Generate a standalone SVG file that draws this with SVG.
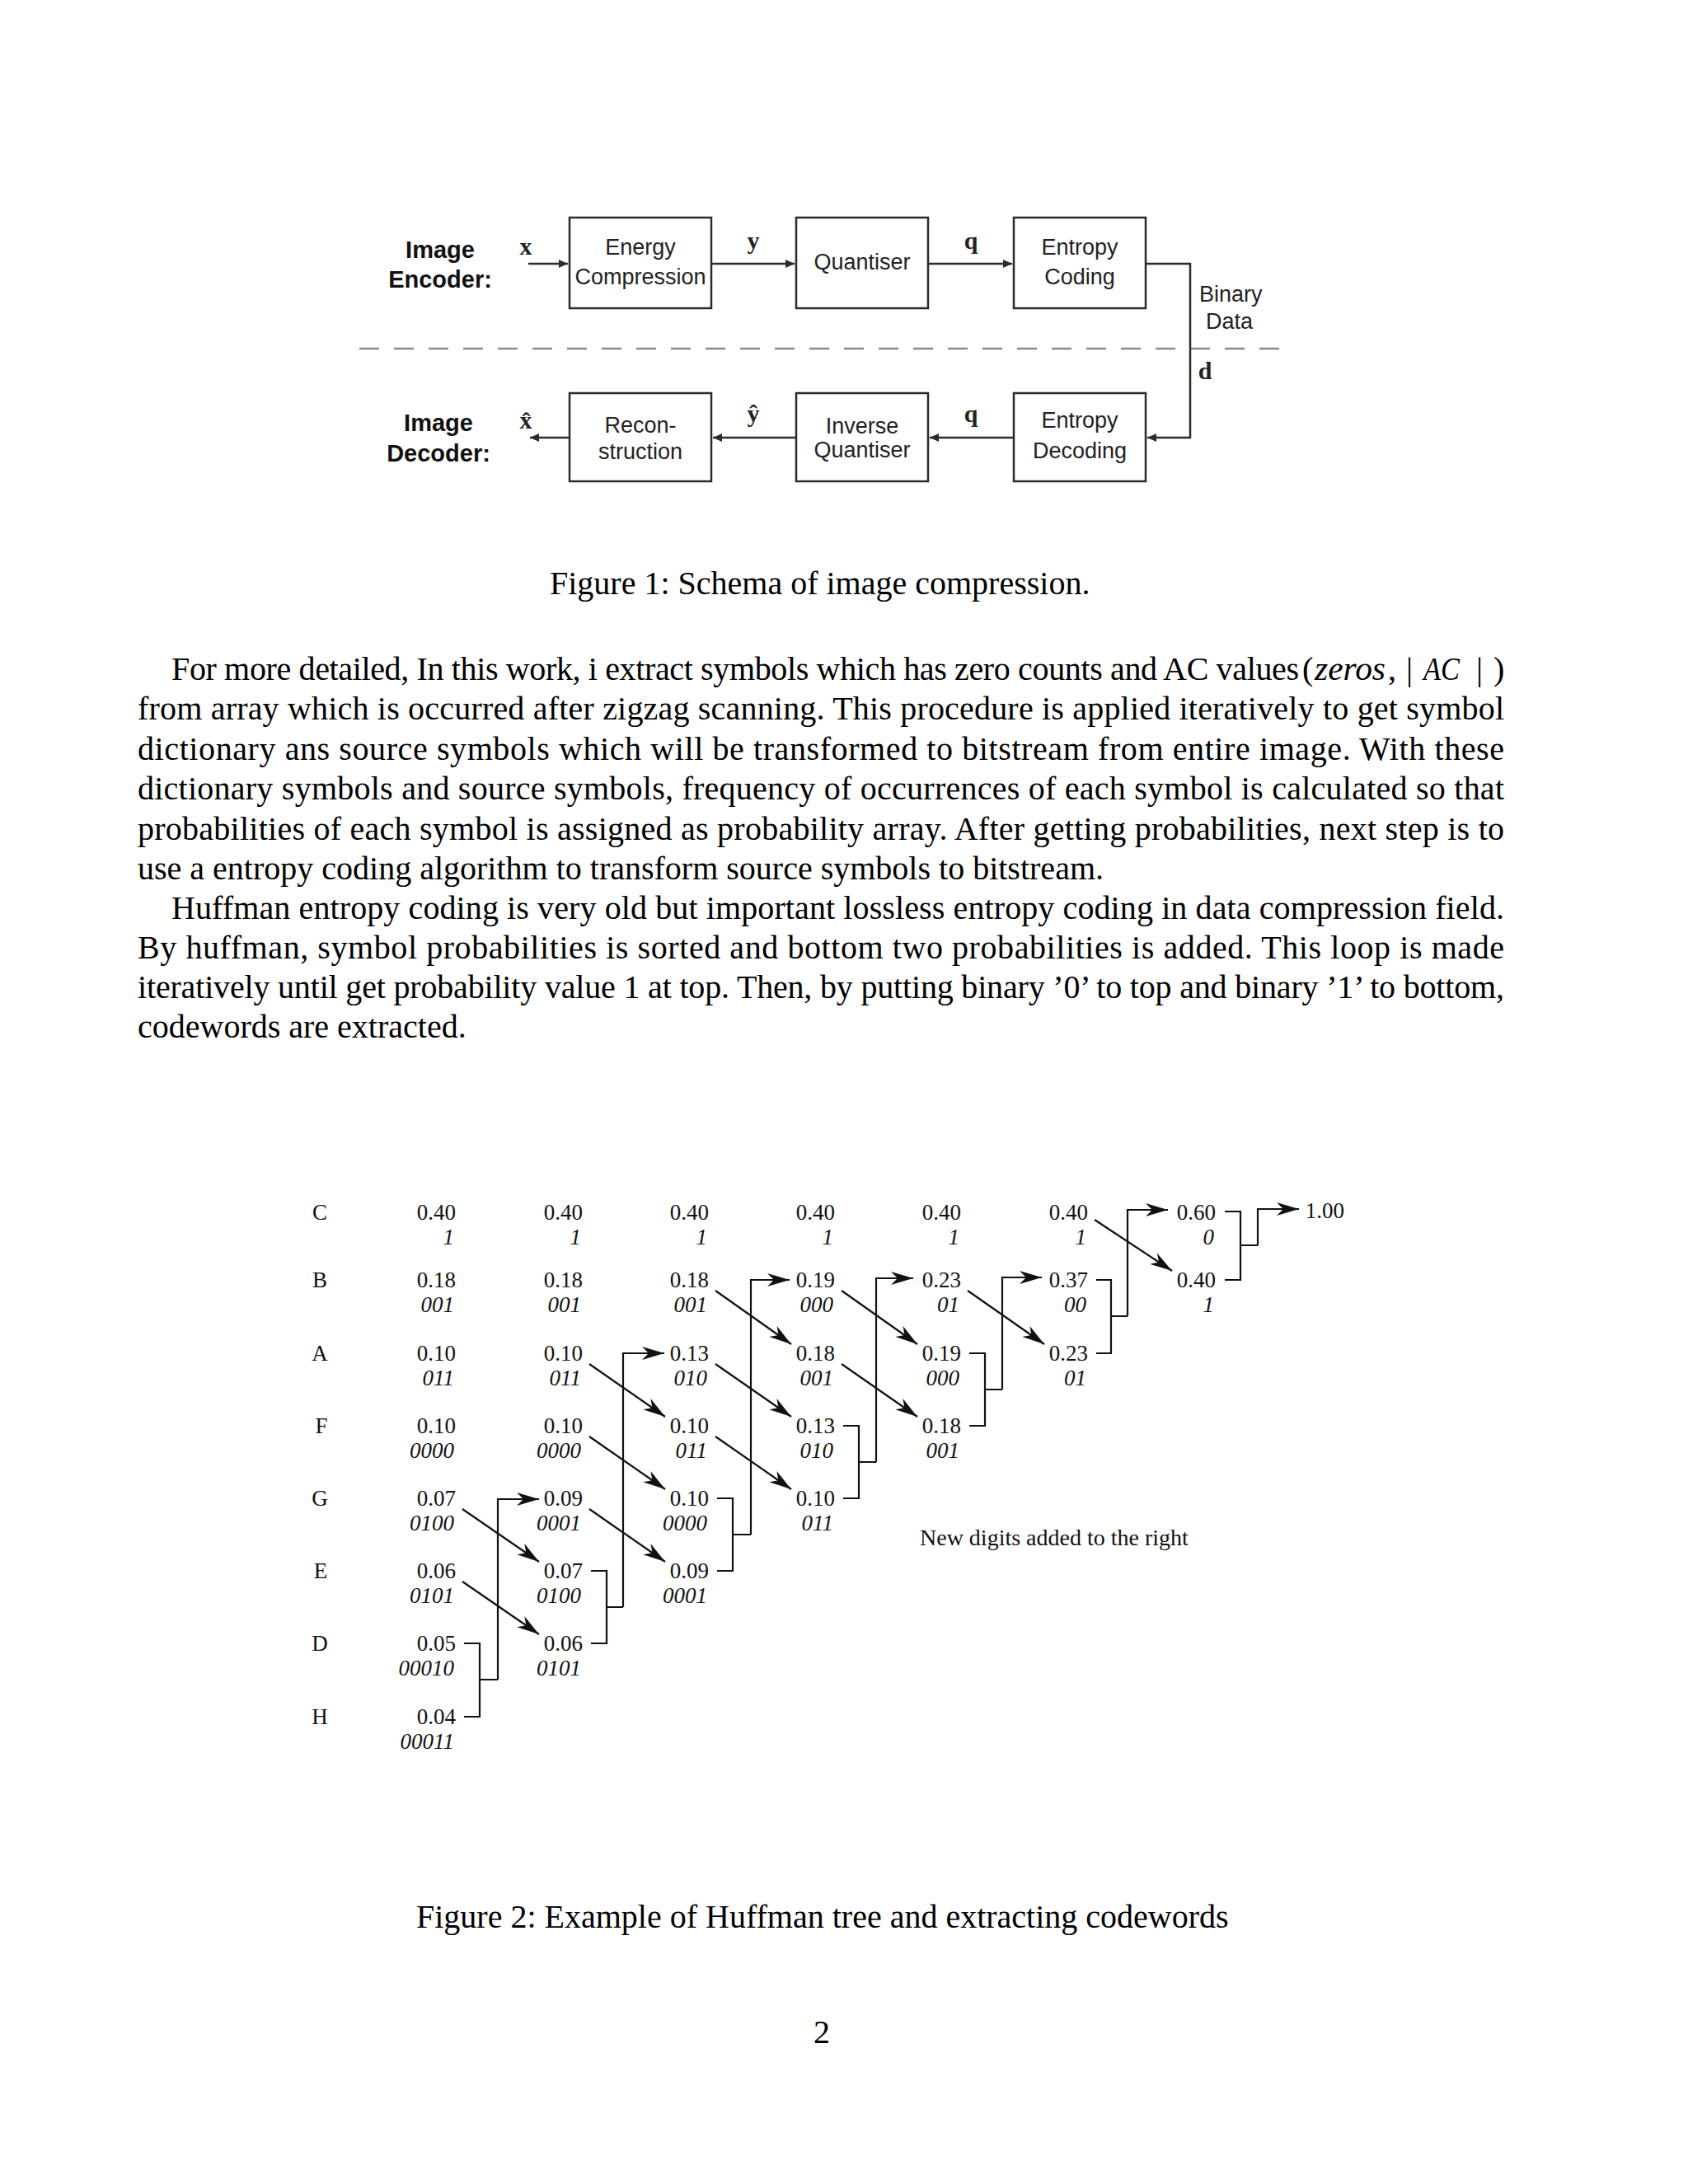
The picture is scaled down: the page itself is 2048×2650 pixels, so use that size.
<svg xmlns="http://www.w3.org/2000/svg" width="2048" height="2650" viewBox="0 0 2048 2650">
<style>
.bg{fill:#fff}
.box{fill:#fff;stroke:#2b2b2b;stroke-width:2.5}
.f1{font-family:"Liberation Sans",Arial,sans-serif;font-size:27px;fill:#222;text-anchor:middle}
.f1b{font-family:"Liberation Sans",Arial,sans-serif;font-size:29px;font-weight:bold;fill:#111;text-anchor:middle}
.f1l{font-family:"Liberation Sans",Arial,sans-serif;font-size:27px;fill:#222}
.var{font-family:"Liberation Serif","Times New Roman",serif;font-size:30px;font-weight:bold;fill:#222;text-anchor:middle}
.c1{fill:none;stroke:#2b2b2b;stroke-width:2.5}
.dash{fill:none;stroke:#8a8a8a;stroke-width:2.5;stroke-dasharray:24 18}
.body{font-family:"Liberation Serif","Times New Roman",serif;font-size:40px;fill:#000}
.it{font-style:italic}
.num{font-family:"Liberation Serif","Times New Roman",serif;font-size:27px;fill:#111;text-anchor:end}
.code{font-family:"Liberation Serif","Times New Roman",serif;font-size:27px;font-style:italic;fill:#111;text-anchor:end}
.sym{font-family:"Liberation Serif","Times New Roman",serif;font-size:27px;fill:#111;text-anchor:middle}
.c2{fill:none;stroke:#111;stroke-width:2.2}
.ar2{fill:none;stroke:#111;stroke-width:2.2;marker-end:url(#ah2)}
.ar1{fill:none;stroke:#2b2b2b;stroke-width:2.5;marker-end:url(#ah1)}
</style>
<defs>
<marker id="ah1" markerUnits="userSpaceOnUse" viewBox="-12 -6 13 12" refX="0" refY="0" markerWidth="13" markerHeight="12" orient="auto">
<path d="M0,0 L-11,-5 L-11,5 Z" fill="#2b2b2b"/>
</marker>
<marker id="ah2" markerUnits="userSpaceOnUse" viewBox="-30 -10 32 20" refX="0" refY="0" markerWidth="32" markerHeight="20" orient="auto">
<path d="M0,0 L-27,-8 L-19,0 L-27,8 Z" fill="#111"/>
</marker>
</defs>
<rect class="bg" x="0" y="0" width="2048" height="2650"/>

<!-- Figure 1 -->
<g id="fig1-labels">
<text class="f1b" x="534" y="313">Image</text>
<text class="f1b" x="534" y="349">Encoder:</text>
<text class="f1b" x="532" y="523">Image</text>
<text class="f1b" x="532" y="560">Decoder:</text>
<text class="var" x="638" y="309">x</text>
<text class="var" x="914" y="302">y</text>
<text class="var" x="1178" y="302">q</text>
<text class="var" x="638" y="520">x̂</text>
<text class="var" x="914" y="512">ŷ</text>
<text class="var" x="1178" y="512">q</text>
<text class="var" x="1462" y="460">d</text>
<text class="f1l" x="1455" y="366">Binary</text>
<text class="f1l" x="1463" y="399">Data</text>
</g>
<g id="energy-compression">
<rect class="box" x="691" y="264" width="172" height="110"/>
<text class="f1" x="777" y="309">Energy</text>
<text class="f1" x="777" y="345">Compression</text>
</g>
<g id="quantiser">
<rect class="box" x="966" y="264" width="160" height="110"/>
<text class="f1" x="1046" y="327">Quantiser</text>
</g>
<g id="entropy-coding">
<rect class="box" x="1230" y="264" width="160" height="110"/>
<text class="f1" x="1310" y="309">Entropy</text>
<text class="f1" x="1310" y="345">Coding</text>
</g>
<g id="reconstruction">
<rect class="box" x="691" y="477" width="172" height="107"/>
<text class="f1" x="777" y="525">Recon-</text>
<text class="f1" x="777" y="557">struction</text>
</g>
<g id="inverse-quantiser">
<rect class="box" x="966" y="477" width="160" height="107"/>
<text class="f1" x="1046" y="526">Inverse</text>
<text class="f1" x="1046" y="555">Quantiser</text>
</g>
<g id="entropy-decoding">
<rect class="box" x="1230" y="477" width="160" height="107"/>
<text class="f1" x="1310" y="519">Entropy</text>
<text class="f1" x="1310" y="556">Decoding</text>
</g>
<g id="fig1-connectors">
<line class="dash" x1="436" y1="423" x2="1560" y2="423"/>
<path class="ar1" d="M641,320 H689"/>
<path class="ar1" d="M863,320 H964"/>
<path class="ar1" d="M1126,320 H1228"/>
<path class="ar1" d="M1390,320 H1444 V531 H1392"/>
<path class="ar1" d="M1230,531 H1128"/>
<path class="ar1" d="M966,531 H865"/>
<path class="ar1" d="M691,531 H643"/>
</g>

<g id="caption1">
<text class="body" x="667" y="721">Figure 1: Schema of image compression.</text>
</g>

<g id="paragraph">
<text class="body" x="208" y="825" textLength="1368">For more detailed, In this work, i extract symbols which has zero counts and AC values</text>
<text class="body" x="1580" y="825">(</text>
<text class="body it" x="1595" y="825" textLength="86" lengthAdjust="spacingAndGlyphs">zeros</text>
<text class="body" x="1684" y="825">,</text>
<text class="body" x="1706" y="825">|</text>
<text class="body it" x="1727" y="825" textLength="44" lengthAdjust="spacingAndGlyphs">AC</text>
<text class="body" x="1791" y="825">|</text>
<text class="body" x="1812" y="825">)</text>
<text class="body" x="167" y="873" textLength="1658">from array which is occurred after zigzag scanning. This procedure is applied iteratively to get symbol</text>
<text class="body" x="167" y="922" textLength="1658">dictionary ans source symbols which will be transformed to bitstream from entire image. With these</text>
<text class="body" x="167" y="970" textLength="1658">dictionary symbols and source symbols, frequency of occurrences of each symbol is calculated so that</text>
<text class="body" x="167" y="1019" textLength="1658">probabilities of each symbol is assigned as probability array. After getting probabilities, next step is to</text>
<text class="body" x="167" y="1067">use a entropy coding algorithm to transform source symbols to bitstream.</text>
<text class="body" x="208" y="1115" textLength="1617">Huffman entropy coding is very old but important lossless entropy coding in data compression field.</text>
<text class="body" x="167" y="1163" textLength="1658">By huffman, symbol probabilities is sorted and bottom two probabilities is added. This loop is made</text>
<text class="body" x="167" y="1211" textLength="1658">iteratively until get probability value 1 at top. Then, by putting binary ’0’ to top and binary ’1’ to bottom,</text>
<text class="body" x="167" y="1259">codewords are extracted.</text>
</g>

<!-- Figure 2 -->
<g id="symbols">
<text class="sym" x="388" y="1480">C</text>
<text class="sym" x="388" y="1562">B</text>
<text class="sym" x="388" y="1651">A</text>
<text class="sym" x="390" y="1739">F</text>
<text class="sym" x="388" y="1827">G</text>
<text class="sym" x="389" y="1915">E</text>
<text class="sym" x="388" y="2003">D</text>
<text class="sym" x="388" y="2092">H</text>
</g>

<g id="col1">
<g id="c1r1"><text class="num" x="553" y="1480">0.40</text><text class="code" x="551" y="1510">1</text></g>
<g id="c1r2"><text class="num" x="553" y="1562">0.18</text><text class="code" x="551" y="1592">001</text></g>
<g id="c1r3"><text class="num" x="553" y="1651">0.10</text><text class="code" x="551" y="1681">011</text></g>
<g id="c1r4"><text class="num" x="553" y="1739">0.10</text><text class="code" x="551" y="1769">0000</text></g>
<g id="c1r5"><text class="num" x="553" y="1827">0.07</text><text class="code" x="551" y="1857">0100</text></g>
<g id="c1r6"><text class="num" x="553" y="1915">0.06</text><text class="code" x="551" y="1945">0101</text></g>
<g id="c1r7"><text class="num" x="553" y="2003">0.05</text><text class="code" x="551" y="2033">00010</text></g>
<g id="c1r8"><text class="num" x="553" y="2092">0.04</text><text class="code" x="551" y="2122">00011</text></g>
</g>
<g id="col2">
<g id="c2r1"><text class="num" x="707" y="1480">0.40</text><text class="code" x="705" y="1510">1</text></g>
<g id="c2r2"><text class="num" x="707" y="1562">0.18</text><text class="code" x="705" y="1592">001</text></g>
<g id="c2r3"><text class="num" x="707" y="1651">0.10</text><text class="code" x="705" y="1681">011</text></g>
<g id="c2r4"><text class="num" x="707" y="1739">0.10</text><text class="code" x="705" y="1769">0000</text></g>
<g id="c2r5"><text class="num" x="707" y="1827">0.09</text><text class="code" x="705" y="1857">0001</text></g>
<g id="c2r6"><text class="num" x="707" y="1915">0.07</text><text class="code" x="705" y="1945">0100</text></g>
<g id="c2r7"><text class="num" x="707" y="2003">0.06</text><text class="code" x="705" y="2033">0101</text></g>
</g>
<g id="col3">
<g id="c3r1"><text class="num" x="860" y="1480">0.40</text><text class="code" x="858" y="1510">1</text></g>
<g id="c3r2"><text class="num" x="860" y="1562">0.18</text><text class="code" x="858" y="1592">001</text></g>
<g id="c3r3"><text class="num" x="860" y="1651">0.13</text><text class="code" x="858" y="1681">010</text></g>
<g id="c3r4"><text class="num" x="860" y="1739">0.10</text><text class="code" x="858" y="1769">011</text></g>
<g id="c3r5"><text class="num" x="860" y="1827">0.10</text><text class="code" x="858" y="1857">0000</text></g>
<g id="c3r6"><text class="num" x="860" y="1915">0.09</text><text class="code" x="858" y="1945">0001</text></g>
</g>
<g id="col4">
<g id="c4r1"><text class="num" x="1013" y="1480">0.40</text><text class="code" x="1011" y="1510">1</text></g>
<g id="c4r2"><text class="num" x="1013" y="1562">0.19</text><text class="code" x="1011" y="1592">000</text></g>
<g id="c4r3"><text class="num" x="1013" y="1651">0.18</text><text class="code" x="1011" y="1681">001</text></g>
<g id="c4r4"><text class="num" x="1013" y="1739">0.13</text><text class="code" x="1011" y="1769">010</text></g>
<g id="c4r5"><text class="num" x="1013" y="1827">0.10</text><text class="code" x="1011" y="1857">011</text></g>
</g>
<g id="col5">
<g id="c5r1"><text class="num" x="1166" y="1480">0.40</text><text class="code" x="1164" y="1510">1</text></g>
<g id="c5r2"><text class="num" x="1166" y="1562">0.23</text><text class="code" x="1164" y="1592">01</text></g>
<g id="c5r3"><text class="num" x="1166" y="1651">0.19</text><text class="code" x="1164" y="1681">000</text></g>
<g id="c5r4"><text class="num" x="1166" y="1739">0.18</text><text class="code" x="1164" y="1769">001</text></g>
</g>
<g id="col6">
<g id="c6r1"><text class="num" x="1320" y="1480">0.40</text><text class="code" x="1318" y="1510">1</text></g>
<g id="c6r2"><text class="num" x="1320" y="1562">0.37</text><text class="code" x="1318" y="1592">00</text></g>
<g id="c6r3"><text class="num" x="1320" y="1651">0.23</text><text class="code" x="1318" y="1681">01</text></g>
</g>
<g id="col7">
<g id="c7r1"><text class="num" x="1475" y="1480">0.60</text><text class="code" x="1473" y="1510">0</text></g>
<g id="c7r2"><text class="num" x="1475" y="1562">0.40</text><text class="code" x="1473" y="1592">1</text></g>
</g>
<g id="col8">
<g id="c8r1"><text class="num" x="1631" y="1478">1.00</text></g>
</g>

<g id="fig2-connectors">
<!-- diagonals -->
<path class="ar2" d="M561,1831 L654,1895"/>
<path class="ar2" d="M561,1919 L654,1983"/>
<path class="ar2" d="M715,1655 L807,1719"/>
<path class="ar2" d="M715,1743 L807,1807"/>
<path class="ar2" d="M715,1831 L807,1895"/>
<path class="ar2" d="M868,1566 L960,1631"/>
<path class="ar2" d="M868,1655 L960,1719"/>
<path class="ar2" d="M868,1743 L960,1807"/>
<path class="ar2" d="M1021,1566 L1113,1631"/>
<path class="ar2" d="M1021,1655 L1113,1719"/>
<path class="ar2" d="M1174,1566 L1267,1631"/>
<path class="ar2" d="M1328,1480 L1422,1542"/>
<!-- brackets -->
<path class="c2" d="M563,1994 H582 V2083 H563 M582,2038 H604"/>
<path class="ar2" d="M604,2038 V1819 H654"/>
<path class="c2" d="M717,1906 H736 V1994 H717 M736,1950 H756"/>
<path class="ar2" d="M756,1950 V1642 H806"/>
<path class="c2" d="M870,1818 H889 V1906 H870 M889,1862 H911"/>
<path class="ar2" d="M911,1862 V1553 H958"/>
<path class="c2" d="M1023,1730 H1042 V1818 H1023 M1042,1774 H1063"/>
<path class="ar2" d="M1063,1774 V1551 H1108"/>
<path class="c2" d="M1176,1642 H1195 V1730 H1176 M1195,1686 H1216"/>
<path class="ar2" d="M1216,1686 V1550 H1264"/>
<path class="c2" d="M1330,1553 H1348 V1642 H1330 M1348,1597 H1368"/>
<path class="ar2" d="M1368,1597 V1468 H1417"/>
<path class="c2" d="M1486,1470 H1505 V1553 H1486 M1505,1511 H1526"/>
<path class="ar2" d="M1526,1511 V1467 H1576"/>
</g>

<g id="note">
<text class="sym" x="1116" y="1875" style="text-anchor:start;font-size:28px">New digits added to the right</text>
</g>

<g id="caption2">
<text class="body" x="505" y="2339">Figure 2: Example of Huffman tree and extracting codewords</text>
</g>
<g id="page-number">
<text class="body" x="997" y="2479" style="text-anchor:middle">2</text>
</g>
</svg>
